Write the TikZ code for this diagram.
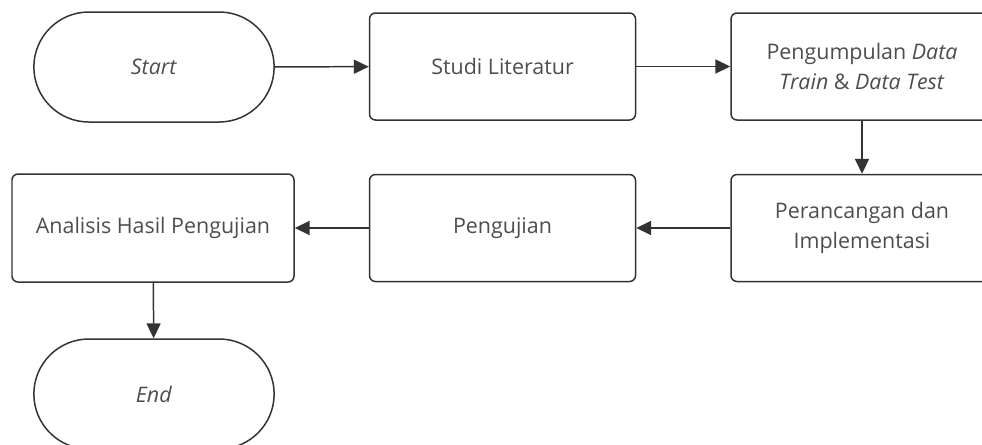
\documentclass[tikz,border=0pt]{standalone}
\usepackage{fontspec}
\setmainfont{Open Sans}
\usepackage{tikz}
\usetikzlibrary{shapes.misc,arrows.meta}

\definecolor{linecol}{HTML}{333333}
\definecolor{textcol}{HTML}{4d4d4d}

\begin{document}
\begin{tikzpicture}[
    every node/.style={font=\fontsize{12.2}{16.8}\selectfont, text=textcol},
    process/.style={rectangle, draw=linecol, line width=0.85pt, rounded corners=3.4pt, minimum width=5.32cm, minimum height=2.14cm, align=center},
    startstop/.style={rounded rectangle, draw=linecol, line width=0.85pt, minimum width=5.04cm, minimum height=2.2cm, align=center},
    arrow/.style={-{Triangle[length=8.5pt,width=8pt]}, draw=linecol, line width=0.85pt}
]
\useasboundingbox (0,0) rectangle (19.64,-8.88);

% Nodos
\node[startstop] (start) at (3.08,-1.34) {\textit{Start}};
\node[process] (studi) at (10.05,-1.33) {Studi Literatur};
\node[process, minimum width=5.24cm] (kumpul) at (17.24,-1.33) {Pengumpulan \textit{Data}\\\textit{Train} \& \textit{Data Test}};
\node[process, minimum width=5.24cm] (rancang) at (17.24,-4.56) {Perancangan dan\\Implementasi};
\node[process] (uji) at (10.05,-4.56) {Pengujian};
\node[process, minimum width=5.64cm, minimum height=2.16cm] (analisis) at (3.06,-4.56) {Analisis Hasil Pengujian};
\node[startstop] (end) at (3.08,-7.88) {\textit{End}};

% Flechas
\draw[arrow] (start) -- (studi);
\draw[arrow] (studi) -- (kumpul);
\draw[arrow] (kumpul) -- (rancang);
\draw[arrow] (rancang) -- (uji);
\draw[arrow] (uji) -- (analisis);
\draw[arrow] (analisis) -- (end);

\end{tikzpicture}
\end{document}
